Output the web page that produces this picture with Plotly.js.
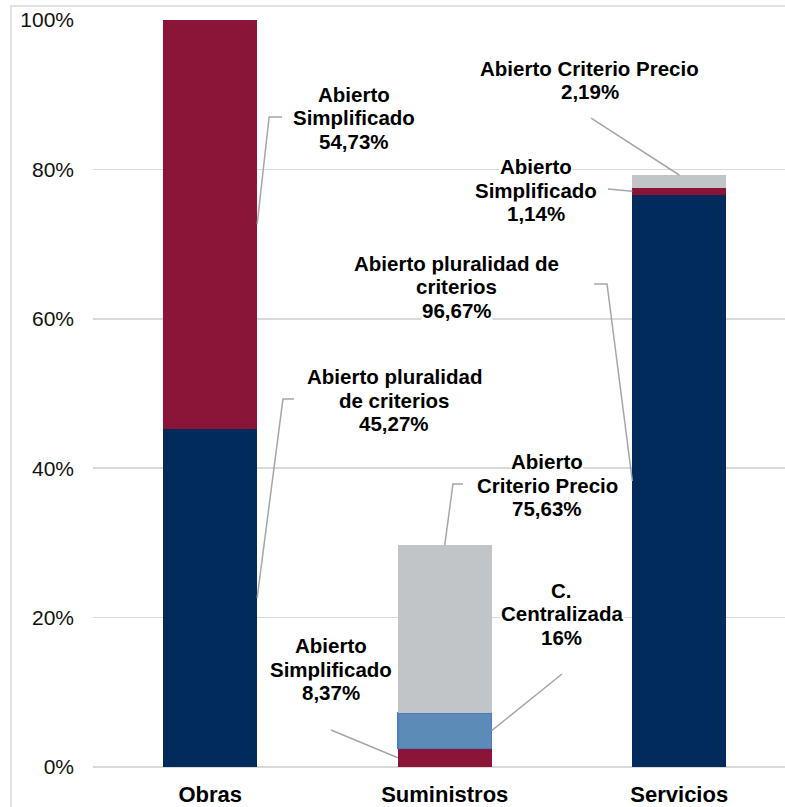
<!DOCTYPE html>
<html>
<head>
<meta charset="utf-8">
<script src="https://cdn.plot.ly/plotly-3.0.1.min.js"></script>
<style>
  html, body { margin: 0; padding: 0; background: #ffffff; overflow: hidden; }
  #chart { width: 785px; height: 807px; }
</style>
</head>
<body>
<div id="chart"></div>
<script>
// ---- Data ----
const categories = ['Obras', 'Suministros', 'Servicios'];
const seriesNames = ['Abierto pluralidad de criterios', 'Abierto Simplificado', 'C. Centralizada', 'Abierto Criterio Precio'];
// bar segment heights, in % of the axis
const pluralidad   = [45.27, null, 76.57];
const simplificado = [54.73, 2.49, 0.98];
const centralizada = [null, 4.75, null];
const precio       = [null, 22.46, 1.70];
const yTickValues  = [0, 20, 40, 60, 80, 100];
const yTickLabels  = ['0%', '20%', '40%', '60%', '80%', '100%'];
// label texts (share within each category)
const labelLines = [
  ['Abierto', 'Simplificado', '54,73%'],
  ['Abierto pluralidad', 'de criterios', '45,27%'],
  ['Abierto', 'Criterio Precio', '75,63%'],
  ['C.', 'Centralizada', '16%'],
  ['Abierto', 'Simplificado', '8,37%'],
  ['Abierto Criterio Precio', '2,19%'],
  ['Abierto', 'Simplificado', '1,14%'],
  ['Abierto pluralidad de', 'criterios', '96,67%']
];

// ---- Styles / layout ----
const colors = ['#002B5B', '#8B1538', '#5B8BB6', '#C1C5C8'];
const barWidth = 0.4;
const seriesValues = [pluralidad, simplificado, centralizada, precio];
const xs = categories.map((c, i) => i);

const traces = seriesValues.map((vals, s) => ({
  type: 'bar',
  name: seriesNames[s],
  x: xs,
  y: vals,
  width: barWidth,
  marker: {
    color: colors[s],
    line: s === 2 ? {color: '#4A7CC9', width: 1.5} : {width: 0}
  },
  hoverinfo: 'skip'
}));

// helpers computing anchor points from the data
function base(s, c) {
  let b = 0;
  for (let k = 0; k < s; k++) b += (seriesValues[k][c] || 0);
  return b;
}
function midY(s, c) { return base(s, c) + (seriesValues[s][c] || 0) / 2; }
function topY(c) { return base(seriesValues.length, c); }

// label placement: series, category, anchor type, label centre, leader start (and optional elbow)
const labelSpecs = [
  {s: 1, c: 0, anchor: 'right', cx: 0.613, cy: 86.9, pts: [[0.306, 87.0], [0.251, 87.0]]},
  {s: 0, c: 0, anchor: 'right', cx: 0.784, cy: 49.1, pts: [[0.357, 49.26], [0.310, 49.26]]},
  {s: 3, c: 1, anchor: 'top',   cx: 1.438, cy: 37.75, pts: [[1.078, 37.88], [1.035, 37.88]]},
  {s: 2, c: 1, anchor: 'right', cx: 1.500, cy: 20.5, pts: [[1.500, 12.45]]},
  {s: 1, c: 1, anchor: 'left',  cx: 0.513, cy: 13.1, pts: [[0.515, 4.95]]},
  {s: 3, c: 2, anchor: 'top',   cx: 1.619, cy: 92.0, pts: [[1.624, 86.88]]},
  {s: 1, c: 2, anchor: 'left',  cx: 1.391, cy: 77.2, pts: [[1.696, 77.38]]},
  {s: 0, c: 2, anchor: 'left',  cx: 1.052, cy: 64.3, pts: [[1.637, 64.66], [1.692, 64.66]]}
];

const annotations = [];
const shapes = [];
const lineStep = 23.5;
labelSpecs.forEach((spec, k) => {
  const lines = labelLines[k];
  const n = lines.length;
  lines.forEach((t, i) => {
    annotations.push({
      xref: 'x', yref: 'y', x: spec.cx, y: spec.cy,
      yshift: ((n - 1) / 2 - i) * lineStep,
      text: '<b>' + t + '</b>',
      showarrow: false, xanchor: 'center', yanchor: 'middle',
      bgcolor: '#ffffff', borderpad: 0,
      font: {family: 'Liberation Sans, Arial, sans-serif', size: 20.5, color: '#000000'}
    });
  });
  let end;
  if (spec.anchor === 'right') end = [spec.c + barWidth / 2, midY(spec.s, spec.c)];
  else if (spec.anchor === 'left') end = [spec.c - barWidth / 2, midY(spec.s, spec.c)];
  else end = [spec.c, topY(spec.c)];
  const pts = spec.pts.concat([end]);
  const path = pts.map((p, i) => (i === 0 ? 'M ' : 'L ') + p[0] + ',' + p[1]).join(' ');
  shapes.push({type: 'path', xref: 'x', yref: 'y', path: path,
               line: {color: '#A6A6A6', width: 1.5}, layer: 'above'});
});

// outer chart border
shapes.push({type: 'rect', xref: 'paper', yref: 'paper', x0: -0.1185, x1: 1.05, y0: -0.2, y1: 1.0187,
             line: {color: '#D9D9D9', width: 1.5}, fillcolor: 'rgba(0,0,0,0)', layer: 'above'});

const layout = {
  width: 785, height: 807,
  margin: {l: 93, r: 0, t: 20, b: 40},
  paper_bgcolor: '#ffffff', plot_bgcolor: '#ffffff',
  barmode: 'stack',
  showlegend: false,
  font: {family: 'Liberation Sans, Arial, sans-serif', color: '#000000'},
  xaxis: {
    type: 'linear', range: [-0.5, 2.451],
    tickmode: 'array', tickvals: xs, ticktext: categories.map(c => '<b>' + c + '</b>'),
    tickfont: {size: 22, color: '#000000'},
    showgrid: false, zeroline: false, showline: false, ticks: '',
    ticklabelstandoff: 12, fixedrange: true
  },
  yaxis: {
    range: [0, 100], tickmode: 'array', tickvals: yTickValues, ticktext: yTickLabels,
    tickfont: {size: 21, color: '#111111'},
    showgrid: true, gridcolor: '#D9D9D9', gridwidth: 1.5,
    zeroline: true, zerolinecolor: '#D9D9D9', zerolinewidth: 1.5,
    showline: false, ticks: '', ticklabelstandoff: 18, fixedrange: true
  },
  annotations: annotations,
  shapes: shapes
};

Plotly.newPlot('chart', traces, layout, {displayModeBar: false, staticPlot: true});
</script>
</body>
</html>
